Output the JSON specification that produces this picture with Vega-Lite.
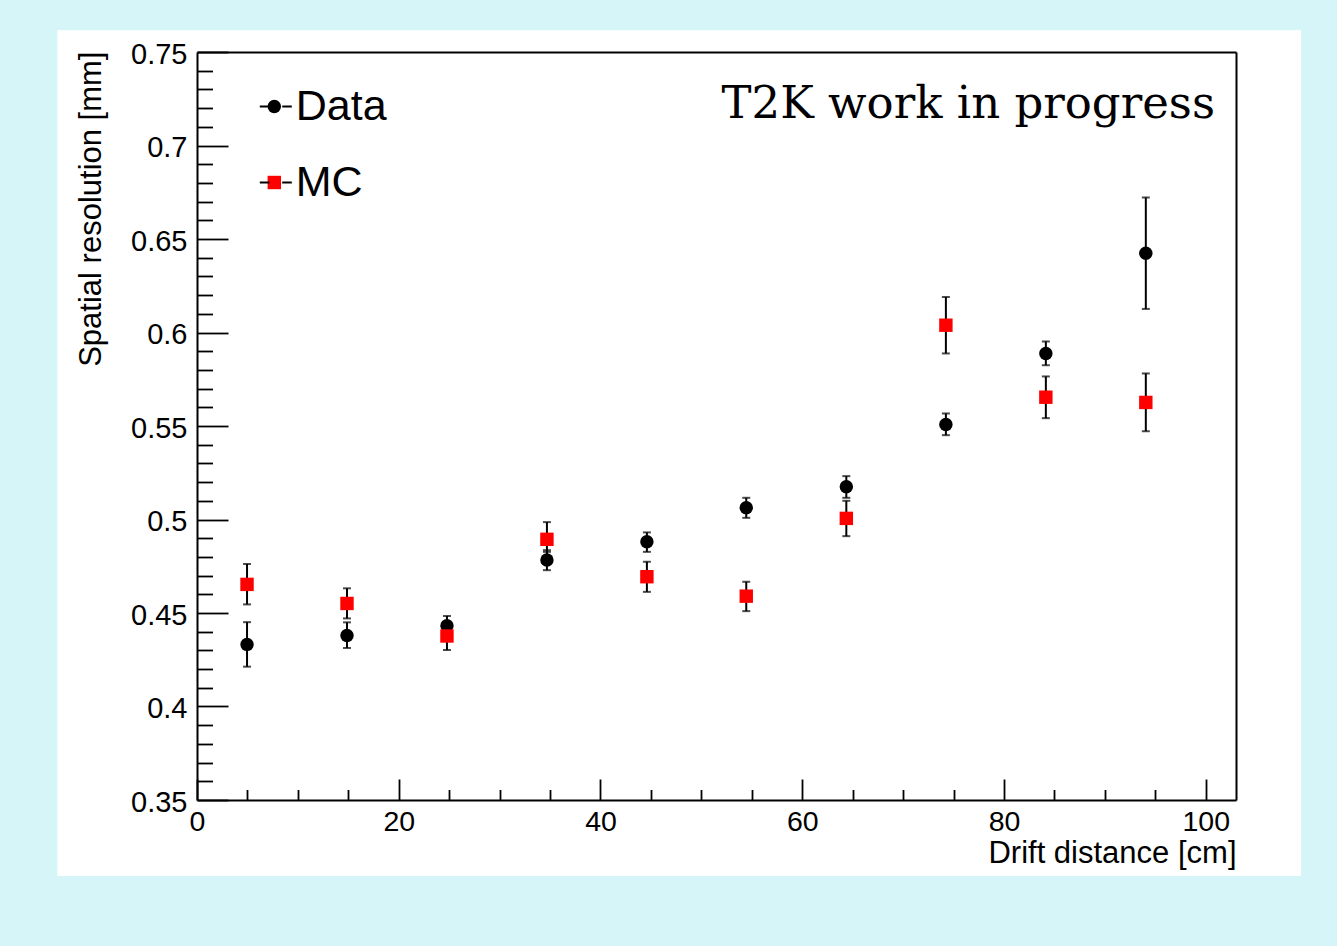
{
  "$schema": "https://vega.github.io/schema/vega-lite/v6.json",
  "autosize": "none",
  "width": 1039,
  "height": 748,
  "padding": {"left": 197, "top": 52, "right": 101, "bottom": 146},
  "background": "#d6f5f8",
  "title": {
    "text": "T2K work in progress",
    "orient": "top",
    "anchor": "end",
    "frame": "group",
    "offset": 0,
    "dx": -21,
    "dy": 133,
    "baseline": "alphabetic",
    "font": "DejaVu Serif",
    "fontSize": 45,
    "fontWeight": "normal",
    "color": "black"
  },
  "config": {"view": {"stroke": null}, "axis": {"grid": false}},
  "datasets": {
    "points": [
      {"series": "Data", "x": 4.96, "y": 0.4332, "lo": 0.4213, "hi": 0.4451},
      {"series": "Data", "x": 14.87, "y": 0.4380, "lo": 0.4313, "hi": 0.4450},
      {"series": "Data", "x": 24.78, "y": 0.4432, "lo": 0.4380, "hi": 0.4484},
      {"series": "Data", "x": 34.69, "y": 0.4783, "lo": 0.4729, "hi": 0.4836},
      {"series": "Data", "x": 44.6, "y": 0.4881, "lo": 0.4827, "hi": 0.4931},
      {"series": "Data", "x": 54.45, "y": 0.5063, "lo": 0.5009, "hi": 0.5116},
      {"series": "Data", "x": 64.37, "y": 0.5175, "lo": 0.5116, "hi": 0.5232},
      {"series": "Data", "x": 74.24, "y": 0.5508, "lo": 0.5451, "hi": 0.5567},
      {"series": "Data", "x": 84.15, "y": 0.5888, "lo": 0.5825, "hi": 0.5952},
      {"series": "Data", "x": 94.06, "y": 0.6424, "lo": 0.6126, "hi": 0.6722},
      {"series": "MC", "x": 4.96, "y": 0.4653, "lo": 0.4546, "hi": 0.4762},
      {"series": "MC", "x": 14.87, "y": 0.4551, "lo": 0.4471, "hi": 0.4632},
      {"series": "MC", "x": 24.78, "y": 0.4377, "lo": 0.4302, "hi": 0.4452},
      {"series": "MC", "x": 34.69, "y": 0.4894, "lo": 0.4827, "hi": 0.4986},
      {"series": "MC", "x": 44.6, "y": 0.4694, "lo": 0.4613, "hi": 0.4774},
      {"series": "MC", "x": 54.45, "y": 0.4590, "lo": 0.4510, "hi": 0.4667},
      {"series": "MC", "x": 64.37, "y": 0.5006, "lo": 0.4911, "hi": 0.5100},
      {"series": "MC", "x": 74.24, "y": 0.6039, "lo": 0.5888, "hi": 0.6190},
      {"series": "MC", "x": 84.15, "y": 0.5654, "lo": 0.5542, "hi": 0.5765},
      {"series": "MC", "x": 94.06, "y": 0.5626, "lo": 0.5472, "hi": 0.5781}
    ]
  },
  "data": {"name": "points"},
  "resolve": {"axis": {"x": "independent", "y": "independent"}},
  "layer": [
    {
      "data": {"values": [{"panel": "background"}]},
      "mark": {"type": "rect", "color": "white", "clip": false},
      "encoding": {
        "x": {"datum": -13.85, "type": "quantitative", "axis": null, "scale": {"domain": [0, 103], "nice": false, "zero": false}},
        "x2": {"datum": 109.45},
        "y": {"datum": 0.3094, "type": "quantitative", "axis": null, "scale": {"domain": [0.35, 0.75], "nice": false, "zero": false}},
        "y2": {"datum": 0.7616}
      }
    },
    {
      "mark": {"type": "errorbar", "ticks": {"size": 8}, "thickness": 2, "color": "black"},
      "encoding": {
        "x": {
          "field": "x", "type": "quantitative",
          "scale": {"domain": [0, 103], "nice": false, "zero": false},
          "axis": {"orient": "top", "domain": true, "domainColor": "black", "domainWidth": 2, "ticks": false, "labels": false, "title": null, "grid": false, "zindex": 1}
        },
        "y": {
          "field": "lo", "type": "quantitative",
          "scale": {"domain": [0.35, 0.75], "nice": false, "zero": false},
          "axis": {"orient": "right", "domain": true, "domainColor": "black", "domainWidth": 2, "ticks": false, "labels": false, "title": null, "grid": false, "zindex": 1}
        },
        "y2": {"field": "hi"}
      }
    },
    {
      "mark": {"type": "point", "filled": true, "size": 180, "opacity": 1},
      "encoding": {
        "x": {
          "field": "x", "type": "quantitative",
          "scale": {"domain": [0, 103], "nice": false, "zero": false},
          "axis": {
            "orient": "bottom",
            "values": [0, 5, 10, 15, 20, 25, 30, 35, 40, 45, 50, 55, 60, 65, 70, 75, 80, 85, 90, 95, 100],
            "labelExpr": "datum.value % 20 === 0 ? format(datum.value, 'd') : ''",
            "tickSize": {"condition": {"test": "datum.value % 20 === 0", "value": -21}, "value": -10.5},
            "tickColor": "black", "tickWidth": 1.8,
            "domain": true, "domainColor": "black", "domainWidth": 2,
            "labelFont": "Liberation Sans", "labelFontSize": 28.5, "labelColor": "black",
            "labelPadding": 28, "labelFlush": false, "labelOverlap": false, "labelBaseline": "top",
            "title": "Drift distance [cm]", "titleFont": "Liberation Sans", "titleFontSize": 31,
            "titleFontWeight": "normal", "titleColor": "black", "titleAlign": "right",
            "titleBaseline": "alphabetic", "titleX": 1039, "titleY": 62, "grid": false, "zindex": 1
          }
        },
        "y": {
          "field": "y", "type": "quantitative",
          "scale": {"domain": [0.35, 0.75], "nice": false, "zero": false},
          "axis": {
            "orient": "left",
            "values": [0.35, 0.36, 0.37, 0.38, 0.39, 0.4, 0.41, 0.42, 0.43, 0.44, 0.45, 0.46, 0.47, 0.48, 0.49, 0.5, 0.51, 0.52, 0.53, 0.54, 0.55, 0.56, 0.57, 0.58, 0.59, 0.6, 0.61, 0.62, 0.63, 0.64, 0.65, 0.66, 0.67, 0.68, 0.69, 0.7, 0.71, 0.72, 0.73, 0.74, 0.75],
            "labelExpr": "round(datum.value * 100) % 5 === 0 ? format(datum.value, '.2~f') : ''",
            "tickSize": {"condition": {"test": "round(datum.value * 100) % 5 === 0", "value": -31}, "value": -15.5},
            "tickColor": "black", "tickWidth": 1.8,
            "domain": true, "domainColor": "black", "domainWidth": 2,
            "labelFont": "Liberation Sans", "labelFontSize": 29, "labelColor": "black",
            "labelPadding": 41, "labelOffset": 2, "labelFlush": false, "labelOverlap": false, "labelBaseline": "middle",
            "title": "Spatial resolution [mm]", "titleFont": "Liberation Sans", "titleFontSize": 31,
            "titleFontWeight": "normal", "titleColor": "black", "titleAngle": -90, "titleAlign": "right",
            "titleBaseline": "alphabetic", "titleX": -97, "titleY": -1, "grid": false, "zindex": 1
          }
        },
        "color": {
          "field": "series", "type": "nominal",
          "scale": {"range": ["#000000", "#ff0000"]},
          "legend": {
            "orient": "none", "legendX": 55.8, "legendY": 33, "title": null, "padding": 0,
            "labelFont": "Liberation Sans", "labelFontSize": 43, "labelColor": "black", "labelOffset": 0,
            "labelLimit": 400, "symbolSize": 180, "symbolStrokeWidth": 0, "rowPadding": 32
          }
        },
        "shape": {
          "field": "series", "type": "nominal",
          "scale": {"range": ["circle", "square"]}
        },
        "strokeDash": {
          "field": "series", "type": "nominal",
          "scale": {"domain": ["Data", "MC"], "range": [[1, 0], [1, 0]]},
          "legend": {
            "orient": "none", "legendX": 57.3, "legendY": 33, "title": null, "padding": 0,
            "labelFont": "Liberation Sans", "labelFontSize": 43, "labelExpr": "''", "labelLimit": 400,
            "rowPadding": 32, "symbolType": "M-1,0H-0.4M0.4,0H1", "symbolSize": 1024,
            "symbolStrokeColor": "black", "symbolStrokeWidth": 2, "symbolFillColor": "transparent"
          }
        }
      }
    }
  ]
}
